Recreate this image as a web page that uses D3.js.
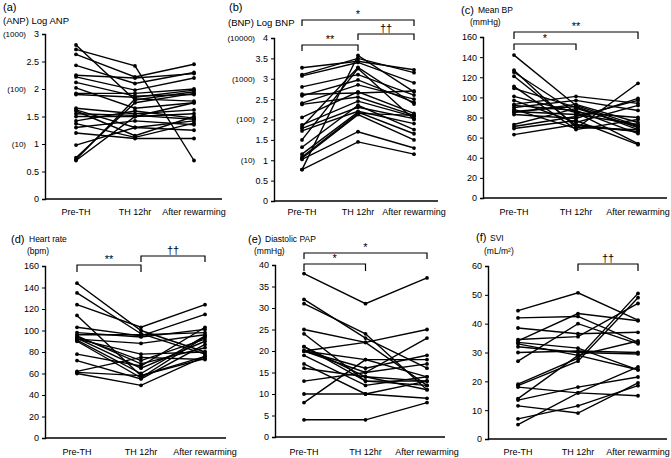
<!DOCTYPE html>
<html><head><meta charset="utf-8">
<script src="https://cdn.jsdelivr.net/npm/d3@7"></script>
<style>body{margin:0;background:#fff}svg{display:block}text{font-family:"Liberation Sans",Arial,sans-serif;fill:#000}</style>
</head><body>
<script>
const categories = ["Pre-TH", "TH 12hr", "After rewarming"];

// (a) Log ANP
const anpTicks = [0, 0.5, 1, 1.5, 2, 2.5, 3];
const anpParen = [[1, "(10)"], [2, "(100)"], [3, "(1000)"]];
const anpValues = [
  [2.80,1.80,1.95],[2.72,2.42,0.70],[2.63,2.22,2.45],[2.43,2.10,2.30],[2.25,2.20,2.28],
  [2.22,1.98,2.20],[2.12,1.87,1.90],[2.02,1.65,1.75],[1.92,1.92,2.00],[1.90,1.85,1.98],
  [1.65,1.55,1.62],[1.62,1.30,1.42],[1.60,1.15,1.50],[1.55,1.52,1.45],[1.50,1.50,1.55],
  [1.42,1.60,1.47],[1.37,1.12,1.38],[1.30,1.42,1.35],[1.20,1.10,1.10],[0.98,1.30,1.25],
  [0.75,1.75,1.92],[0.72,1.82,1.78],[0.70,1.50,1.75]
];
// (b) Log BNP
const bnpTicks = [0, 0.5, 1, 1.5, 2, 2.5, 3, 3.5, 4];
const bnpParen = [[1, "(10)"], [2, "(100)"], [3, "(1000)"], [4, "(10000)"]];
const bnpValues = [
  [3.27,3.43,3.22],[3.10,3.50,3.15],[3.07,3.40,2.90],[2.80,3.10,2.60],[2.62,2.65,2.70],
  [2.58,2.97,2.42],[2.40,2.85,2.50],[2.37,2.55,2.10],[2.05,2.68,2.15],[1.87,2.45,2.07],
  [1.82,3.28,2.38],[1.78,2.30,2.02],[1.72,2.20,1.90],[1.50,3.25,2.00],[1.32,2.35,1.75],
  [1.15,2.18,1.65],[1.08,2.15,2.10],[1.05,2.12,1.50],[1.02,1.70,1.30],[0.77,1.45,1.15],
  [0.77,3.57,2.68]
];
// (c) Mean BP
const bpTicks = [0, 20, 40, 60, 80, 100, 120, 140, 160];
const bpValues = [
  [142,92,72],[127,70,68],[125,85,54],[121,72,66],[111,68,78],[109,90,70],[101,85,80],
  [97,75,92],[93,101,94],[90,97,87],[88,69,114],[86,83,73],[85,93,75],[83,79,99],
  [92,87,64],[73,89,71],[71,81,97],[69,77,53],[63,73,66],[86,91,68]
];
// (d) Heart rate
const hrTicks = [0, 20, 40, 60, 80, 100, 120, 140, 160];
const hrValues = [
  [144,100,80],[135,97,78],[124,103,124],[114,58,76],[103,95,115],[98,94,101],[96,96,98],
  [94,72,92],[93,65,90],[92,88,96],[91,60,95],[90,56,94],[95,69,84],[78,67,103],
  [72,55,87],[62,75,73],[61,58,74],[60,49,76],[92,78,80]
];
// (e) Diastolic PAP
const papTicks = [0, 5, 10, 15, 20, 25, 30, 35, 40];
const papValues = [
  [38,31,37],[32,23,16],[31,24,11],[25,22,12],[24,13,12],[21,14,13],[20,22,25],[20,18,18],
  [20,15,23],[19,12,14],[17,10,9],[16,14,11],[20,16,19],[13,15,17],[10,10,13],[8,18,14],
  [4,4,8],[21,13,13]
];
// (f) SVI
const sviTicks = [0, 10, 20, 30, 40, 50, 60];
const sviValues = [
  [44.5,50.7,41.2],[42,42.5,33.5],[38.5,36.5,37],[34.5,35.5,47],[34,43.5,41],[33,29,24],
  [32,30,29.5],[30,30.5,30],[27,40,33],[19,28,50.5],[18.5,27,49],[18,16,25],[14,29,34],
  [13.5,18,21.5],[11.5,9,19.5],[7,11.5,18.5],[5,16,15],[33.5,31.5,24]
];

const panels = [
  {values: anpValues, ticks: anpTicks, paren: anpParen, max: 3,
   ax: 45, top: 34, bottom: 199, x0: 76, x1: 194, xend: 222, labelY: 215,
   titles: [{t: "(a)", x: 3, y: 11, s: 11}, {t: "(ANP) Log ANP", x: 3, y: 24, s: 9.5}],
   brackets: []},
  {values: bnpValues, ticks: bnpTicks, paren: bnpParen, max: 4,
   ax: 274, top: 38, bottom: 201, x0: 302, x1: 414, xend: 438, labelY: 215,
   titles: [{t: "(b)", x: 229, y: 11, s: 11}, {t: "(BNP) Log BNP", x: 228, y: 26, s: 9.5}],
   brackets: [{a: 0, b: 2, y: 20, h: 6, t: "*"}, {a: 1, b: 2, y: 34, h: 6, t: "††"}, {a: 0, b: 1, y: 45, h: 6, t: "**"}]},
  {values: bpValues, ticks: bpTicks, paren: [], max: 160,
   ax: 483, top: 37, bottom: 198, x0: 514, x1: 638, xend: 667, labelY: 215,
   titles: [{t: "(c)", x: 461, y: 14, s: 11}, {t: "Mean BP", x: 478, y: 13, s: 8.5}, {t: "(mmHg)", x: 470, y: 25, s: 8.5}],
   brackets: [{a: 0, b: 2, y: 32, h: 7, t: "**"}, {a: 0, b: 1, y: 44, h: 6, t: "*"}]},
  {values: hrValues, ticks: hrTicks, paren: [], max: 160,
   ax: 45, top: 266, bottom: 438, x0: 77, x1: 205, xend: 226, labelY: 455,
   titles: [{t: "(d)", x: 11, y: 243, s: 11}, {t: "Heart rate", x: 29, y: 242, s: 8.5}, {t: "(bpm)", x: 27, y: 254, s: 8.5}],
   brackets: [{a: 1, b: 2, y: 256, h: 6, t: "††"}, {a: 0, b: 1, y: 265, h: 7, t: "**"}]},
  {values: papValues, ticks: papTicks, paren: [], max: 40,
   ax: 275, top: 265, bottom: 437, x0: 304, x1: 427, xend: 445, labelY: 455,
   titles: [{t: "(e)", x: 248, y: 243, s: 11}, {t: "Diastolic PAP", x: 265, y: 242, s: 8.5}, {t: "(mmHg)", x: 254, y: 254, s: 8.5}],
   brackets: [{a: 0, b: 2, y: 253, h: 6, t: "*"}, {a: 0, b: 1, y: 264, h: 7, t: "*"}]},
  {values: sviValues, ticks: sviTicks, paren: [], max: 60,
   ax: 488, top: 266, bottom: 439, x0: 518, x1: 638, xend: 667, labelY: 455,
   titles: [{t: "(f)", x: 476, y: 241, s: 11}, {t: "SVI", x: 490, y: 241, s: 8.5}, {t: "(mL/m²)", x: 484, y: 254, s: 8.5}],
   brackets: [{a: 1, b: 2, y: 264, h: 7, t: "††"}]}
];

const svg = d3.select("body").append("svg").attr("width", 671).attr("height", 458);

panels.forEach(p => {
  const g = svg.append("g");
  const x = d3.scalePoint().domain(categories).range([p.x0, p.x1]);
  const y = d3.scaleLinear().domain([0, p.max]).range([p.bottom, p.top]);

  const yAxis = d3.axisLeft(y).tickValues(p.ticks).tickSize(3).tickPadding(3).tickFormat(d => d);
  const ya = g.append("g").attr("transform", `translate(${p.ax},0)`).call(yAxis);
  ya.select(".domain").attr("stroke", "#000").attr("stroke-width", 1.4);
  ya.selectAll(".tick line").attr("stroke", "#000");
  ya.selectAll(".tick text").attr("font-size", 9).attr("font-family", "Liberation Sans, Arial, sans-serif").attr("fill", "#000");

  g.append("line").attr("x1", p.ax).attr("x2", p.xend).attr("y1", p.bottom).attr("y2", p.bottom)
    .attr("stroke", "#000").attr("stroke-width", 1.4);

  p.paren.forEach(([v, t]) => {
    g.append("text").attr("x", p.ax - 19).attr("y", y(v)).attr("dy", "0.35em")
      .attr("text-anchor", "end").attr("font-size", 8).text(t);
  });

  categories.forEach(c => {
    g.append("text").attr("x", x(c)).attr("y", p.labelY).attr("text-anchor", "middle")
      .attr("font-size", 9).text(c);
  });

  const line = d3.line().x((d, i) => x(categories[i])).y(d => y(d));
  g.selectAll(".ln").data(p.values).join("path")
    .attr("d", line).attr("fill", "none").attr("stroke", "#000").attr("stroke-width", 1.4);
  p.values.forEach(row => {
    g.selectAll(null).data(row).join("circle")
      .attr("cx", (d, i) => x(categories[i])).attr("cy", d => y(d)).attr("r", 1.9).attr("fill", "#000");
  });

  p.titles.forEach(t => {
    g.append("text").attr("x", t.x).attr("y", t.y).attr("font-size", t.s).text(t.t);
  });

  p.brackets.forEach(b => {
    const xa = x(categories[b.a]), xb = x(categories[b.b]);
    g.append("path").attr("d", `M${xa},${b.y + b.h}V${b.y}H${xb}V${b.y + b.h}`)
      .attr("fill", "none").attr("stroke", "#000").attr("stroke-width", 1.2);
    g.append("text").attr("x", (xa + xb) / 2).attr("y", b.y - 2).attr("text-anchor", "middle")
      .attr("font-size", 11).attr("fill", "#000").text(b.t);
  });
});
</script>
</body></html>
